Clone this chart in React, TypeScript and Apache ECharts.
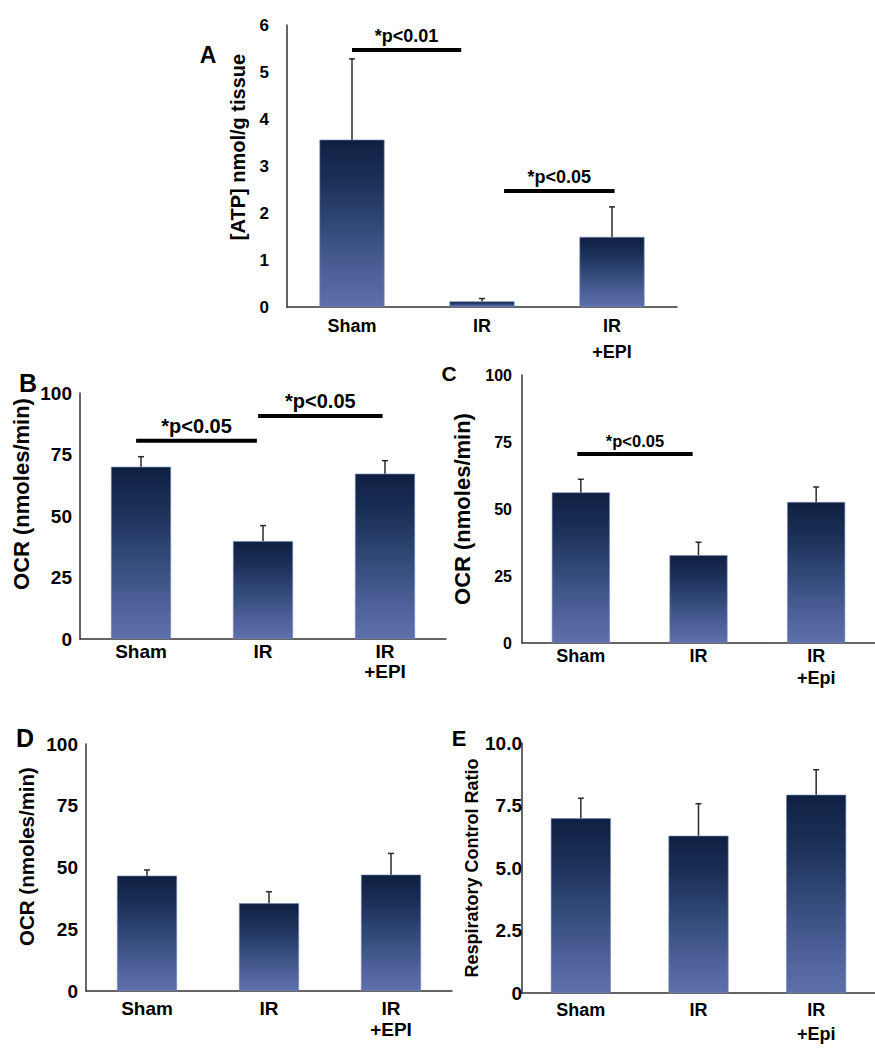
import React, { useEffect, useRef } from "react";
import * as echarts from "echarts";

const catsEPI = ["Sham", "IR", "IR\n+EPI"];
const catsEpi = ["Sham", "IR", "IR\n+Epi"];

const atpMean = [3.56, 0.12, 1.49];
const atpSem = [1.72, 0.06, 0.64];
const ocrBMean = [70.0, 39.8, 67.2];
const ocrBSem = [4.1, 6.3, 5.3];
const ocrCMean = [56.2, 32.8, 52.6];
const ocrCSem = [4.9, 4.8, 5.6];
const ocrDMean = [46.7, 35.5, 47.1];
const ocrDSem = [2.3, 4.7, 8.6];
const rcrMean = [6.99, 6.29, 7.93];
const rcrSem = [0.8, 1.28, 1.0];

const ticksA = [0, 1, 2, 3, 4, 5, 6];
const ticksOCR = [0, 25, 50, 75, 100];
const ticksRCR = [0, 2.5, 5.0, 7.5, 10.0];

// significance annotations: from/to in category units, y in data units
const sigA = [
  { from: 0, to: 0.84, y: 5.47, label: "*p<0.01" },
  { from: 1.17, to: 2.02, y: 2.47, label: "*p<0.05" },
];
const sigB = [
  { from: -0.04, to: 0.95, y: 80.6, label: "*p<0.05" },
  { from: 0.96, to: 1.98, y: 90.7, label: "*p<0.05" },
];
const sigC = [{ from: -0.03, to: 0.95, y: 70.5, label: "*p<0.05" }];

const FONT = "'Liberation Sans', Arial, Helvetica, sans-serif";

const panels = [
  {
    letter: "A", cats: catsEPI, mean: atpMean, sem: atpSem, ticks: ticksA, sig: sigA,
    name: "[ATP] nmol/g tissue",
    grid: { left: 287, top: 25, width: 390, height: 282 },
    barWidth: 65, tickSize: 17, tickMargin: 18, nameSize: 20, nameGap: 39, nameShift: 38,
    catSize: 18, catMargin: 6, catLH: 26, sigSize: 18, sigGap: 5,
    letterPos: [208, 55], letterSize: 23,
  },
  {
    letter: "B", cats: catsEPI, mean: ocrBMean, sem: ocrBSem, ticks: ticksOCR, sig: sigB,
    name: "OCR (nmoles/min)",
    grid: { left: 80, top: 393, width: 366, height: 246 },
    barWidth: 60, tickSize: 19, tickMargin: 8, nameSize: 22, nameGap: 48, nameShift: 44,
    catSize: 19, catMargin: 2, catLH: 20, sigSize: 20, sigGap: 5,
    letterPos: [28, 383], letterSize: 25,
  },
  {
    letter: "C", cats: catsEpi, mean: ocrCMean, sem: ocrCSem, ticks: ticksOCR, sig: sigC,
    name: "OCR (nmoles/min)",
    grid: { left: 522, top: 375, width: 353, height: 268 },
    barWidth: 58, tickSize: 16, tickMargin: 10, nameSize: 22, nameGap: 49, nameShift: 0,
    catSize: 18, catMargin: 2, catLH: 22, sigSize: 16.5, sigGap: 5,
    letterPos: [449, 373], letterSize: 21,
  },
  {
    letter: "D", cats: catsEPI, mean: ocrDMean, sem: ocrDSem, ticks: ticksOCR, sig: [],
    name: "OCR (nmoles/min)",
    grid: { left: 86, top: 744, width: 366, height: 247 },
    barWidth: 60, tickSize: 19, tickMargin: 8, nameSize: 20.5, nameGap: 49, nameShift: 22,
    catSize: 19, catMargin: 7, catLH: 21, sigSize: 18, sigGap: 5,
    letterPos: [25, 738], letterSize: 25,
  },
  {
    letter: "E", cats: catsEpi, mean: rcrMean, sem: rcrSem, ticks: ticksRCR, sig: [],
    name: "Respiratory Control Ratio",
    grid: { left: 522, top: 743, width: 364, height: 250 },
    barWidth: 60, tickSize: 19, tickMargin: 0, nameSize: 18, nameGap: 37, nameShift: 0,
    catSize: 18, catMargin: 5, catLH: 24, sigSize: 18, sigGap: 5,
    letterPos: [459, 738], letterSize: 22,
    fmt: (v: number) => (v === 0 ? "0" : v.toFixed(1)),
  },
];

function barGradient() {
  return new echarts.graphic.LinearGradient(0, 0, 0, 1, [
    { offset: 0, color: "#0f1f42" },
    { offset: 0.25, color: "#1c3158" },
    { offset: 0.55, color: "#354c7c" },
    { offset: 0.8, color: "#4e619a" },
    { offset: 1, color: "#5d70a9" },
  ]);
}

export default function App() {
  const ref = useRef<HTMLDivElement>(null);
  useEffect(() => {
    if (!ref.current) return;
    const chart = echarts.init(ref.current, undefined, { renderer: "svg" });
    const grids: any[] = [];
    const xAxes: any[] = [];
    const yAxes: any[] = [];
    const series: any[] = [];
    const graphics: any[] = [];

    panels.forEach((p: any, i: number) => {
      grids.push({ ...p.grid, containLabel: false });
      xAxes.push({
        type: "category",
        gridIndex: i,
        data: p.cats,
        axisLine: { show: true, lineStyle: { color: "#333", width: 1.5 } },
        axisTick: { show: false },
        axisLabel: {
          interval: 0,
          color: "#000",
          fontFamily: FONT,
          fontWeight: "bold",
          fontSize: p.catSize,
          lineHeight: p.catLH,
          margin: p.catMargin,
        },
      });
      const tks = p.ticks;
      yAxes.push({
        type: "value",
        gridIndex: i,
        min: tks[0],
        max: tks[tks.length - 1],
        interval: tks[1] - tks[0],
        splitLine: { show: false },
        axisLine: { show: true, lineStyle: { color: "#333", width: 1.5 } },
        axisTick: { show: false },
        axisLabel: {
          color: "#000",
          fontFamily: FONT,
          fontWeight: "bold",
          fontSize: p.tickSize,
          margin: p.tickMargin,
          formatter: p.fmt ? p.fmt : (v: number) => String(v),
        },
        name: p.name,
        nameLocation: "middle",
        nameRotate: 90,
        nameGap: p.nameGap,
        nameTextStyle: {
          color: "#000",
          fontFamily: FONT,
          fontWeight: "bold",
          fontSize: p.nameSize,
          padding: p.nameShift > 0 ? [0, 0, 0, p.nameShift] : [0, 0, 0, 0],
        },
      });
      series.push({
        type: "bar",
        xAxisIndex: i,
        yAxisIndex: i,
        barWidth: p.barWidth,
        data: p.mean,
        itemStyle: { color: barGradient(), borderColor: "#7584b8", borderWidth: 0.6 },
        z: 2,
      });
      series.push({
        type: "custom",
        xAxisIndex: i,
        yAxisIndex: i,
        z: 3,
        data: p.mean.map((m: number, k: number) => [k, m, m + p.sem[k]]),
        renderItem: (params: any, api: any) => {
          const base = api.coord([api.value(0), api.value(1)]);
          const top = api.coord([api.value(0), api.value(2)]);
          const st = { stroke: "#2a2a2a", lineWidth: 1.5 };
          return {
            type: "group",
            children: [
              { type: "line", shape: { x1: base[0], y1: base[1], x2: top[0], y2: top[1] }, style: st },
              { type: "line", shape: { x1: top[0] - 3, y1: top[1], x2: top[0] + 3, y2: top[1] }, style: st },
            ],
          };
        },
      });
      if (p.sig.length) {
        series.push({
          type: "custom",
          xAxisIndex: i,
          yAxisIndex: i,
          z: 4,
          data: p.sig.map((s: any) => [0, s.from, s.to, s.y]),
          encode: { x: 0, y: 3 },
          renderItem: (params: any, api: any) => {
            const origin = api.coord([0, api.value(3)]);
            const band = api.size([1, 0])[0];
            const x0 = origin[0] + api.value(1) * band;
            const x1 = origin[0] + api.value(2) * band;
            const y = origin[1];
            const label = p.sig[params.dataIndex].label;
            return {
              type: "group",
              children: [
                { type: "line", shape: { x1: x0, y1: y, x2: x1, y2: y }, style: { stroke: "#000", lineWidth: 4 } },
                {
                  type: "text",
                  x: (x0 + x1) / 2,
                  y: y - p.sigGap,
                  style: {
                    text: label,
                    fill: "#000",
                    fontFamily: FONT,
                    fontWeight: "bold",
                    fontSize: p.sigSize,
                    align: "center",
                    verticalAlign: "bottom",
                  },
                },
              ],
            };
          },
        });
      }
      graphics.push({
        type: "text",
        x: p.letterPos[0],
        y: p.letterPos[1],
        style: {
          text: p.letter,
          fill: "#000",
          fontFamily: FONT,
          fontWeight: "bold",
          fontSize: p.letterSize,
          align: "center",
          verticalAlign: "middle",
        },
      });
    });

    chart.setOption({
      animation: false,
      backgroundColor: "#fff",
      grid: grids,
      xAxis: xAxes,
      yAxis: yAxes,
      series,
      graphic: graphics,
    });
    return () => chart.dispose();
  }, []);
  return (
    <div
      ref={ref}
      style={{ position: "absolute", left: 0, top: 0, width: 875, height: 1050, background: "#fff" }}
    />
  );
}
